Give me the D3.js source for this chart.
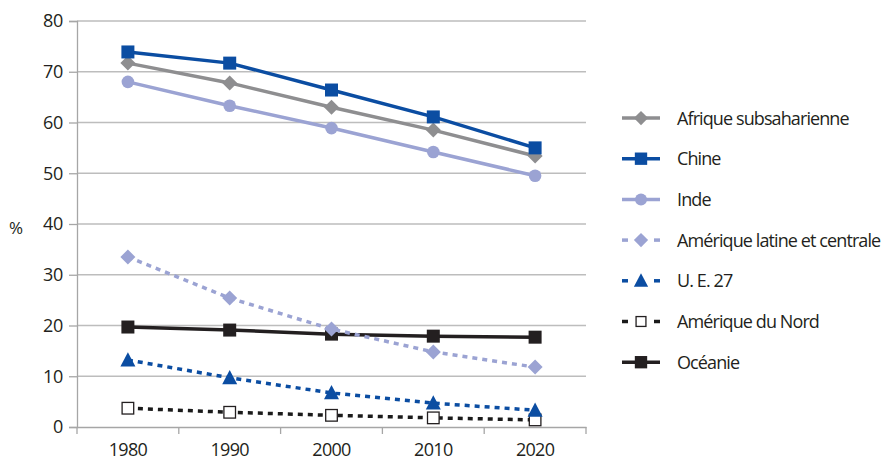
<!DOCTYPE html>
<html><head><meta charset="utf-8">
<script src="https://cdn.jsdelivr.net/npm/d3@7"></script>
<style>body{margin:0;background:#fff}svg{display:block}text{font-family:"Open Sans",sans-serif;fill:#231f20}</style>
</head><body><svg id="c" width="889" height="462"></svg>
<script>
const years = ["1980","1990","2000","2010","2020"];
const yTicks = [0,10,20,30,40,50,60,70,80];
const afrique = [71.7,67.8,63.0,58.5,53.4];
const chine = [73.9,71.7,66.4,61.1,55.0];
const inde = [68.0,63.3,58.9,54.2,49.5];
const amLatine = [33.5,25.4,19.3,14.8,11.8];
const ue27 = [13.2,9.7,6.7,4.7,3.3];
const amNord = [3.7,2.9,2.3,1.8,1.4];
const oceanie = [19.7,19.1,18.3,17.9,17.7];
const seriesNames = ["Afrique subsaharienne","Chine","Inde","Amérique latine et centrale","U. E. 27","Amérique du Nord","Océanie"];

const series = [
 {name:seriesNames[0], values:afrique, color:"#8e8e90", dash:null, marker:"diamond"},
 {name:seriesNames[1], values:chine, color:"#0b4da2", dash:null, marker:"square"},
 {name:seriesNames[2], values:inde, color:"#9ba3d3", dash:null, marker:"circle"},
 {name:seriesNames[3], values:amLatine, color:"#9ba3d3", dash:"5,5", marker:"diamond"},
 {name:seriesNames[4], values:ue27, color:"#0b4da2", dash:"5,5", marker:"triangle"},
 {name:seriesNames[5], values:amNord, color:"#1a1a1a", dash:"5,5", marker:"openSquare"},
 {name:seriesNames[6], values:oceanie, color:"#231f20", dash:null, marker:"square"}
];

const svg = d3.select("#c");
const x = d3.scaleBand().domain(years).range([77,586]);
const y = d3.scaleLinear().domain([0,80]).range([427,21]);
const cx = d => x(d)+x.bandwidth()/2;

svg.append("g").selectAll("line").data(yTicks.filter(t=>t>0)).join("line")
 .attr("x1",77).attr("x2",586).attr("y1",d=>y(d)).attr("y2",d=>y(d))
 .attr("stroke","#bdbdbd").attr("stroke-width",1.3);

const ya = svg.append("g").attr("transform","translate(77,0)")
 .call(d3.axisLeft(y).tickValues(yTicks).tickSize(8).tickPadding(6));
ya.attr("font-size",null).attr("font-family",null);
ya.select(".domain").attr("stroke","#a6a6a6").attr("stroke-width",1.3);
ya.selectAll(".tick line").attr("stroke","#a6a6a6").attr("stroke-width",1.3);
ya.selectAll(".tick text").style("font-size","18px").attr("fill","#231f20").attr("letter-spacing","-0.3");

const xa = svg.append("g").attr("transform","translate(0,427)")
 .call(d3.axisBottom(x).tickSize(0).tickPadding(16));
xa.attr("font-size",null).attr("font-family",null);
xa.select(".domain").attr("stroke","#a6a6a6").attr("stroke-width",1.3);
xa.selectAll(".tick text").style("font-size","18px").attr("fill","#231f20").attr("letter-spacing","-0.7");
const bounds = years.map(d=>x(d)).concat([x.range()[1]]);
svg.append("g").selectAll("line").data(bounds).join("line")
 .attr("x1",d=>d).attr("x2",d=>d).attr("y1",427).attr("y2",434)
 .attr("stroke","#a6a6a6").attr("stroke-width",1.3);

svg.append("text").attr("x",9).attr("y",234).style("font-size","17px").text("%");

function drawMarker(g, type, color, px, py, s){
  s = s||1;
  if(type==="diamond"){
    const r=7.5*s;
    g.append("path").attr("d",`M${px},${py-r}L${px+r},${py}L${px},${py+r}L${px-r},${py}Z`).attr("fill",color);
  } else if(type==="square"){
    const h=6.5*s;
    g.append("rect").attr("x",px-h).attr("y",py-h).attr("width",2*h).attr("height",2*h).attr("fill",color);
  } else if(type==="circle"){
    g.append("circle").attr("cx",px).attr("cy",py).attr("r",6.3*s).attr("fill",color);
  } else if(type==="triangle"){
    const h=7.5*s;
    g.append("path").attr("d",`M${px},${py-h*1.05}L${px+h},${py+h*0.85}L${px-h},${py+h*0.85}Z`).attr("fill",color);
  } else if(type==="openSquare"){
    const h=5.8*s;
    g.append("rect").attr("x",px-h).attr("y",py-h).attr("width",2*h).attr("height",2*h).attr("fill","#fff").attr("stroke","#231f20").attr("stroke-width",1.3);
  }
}

const line = d3.line().x((d,i)=>cx(years[i])).y(d=>y(d));
const order = [5,4,6,3,2,0,1];
order.forEach(k=>{
  const s = series[k];
  const g = svg.append("g");
  g.append("path").attr("d",line(s.values)).attr("fill","none").attr("stroke",s.color)
   .attr("stroke-width",3.5).attr("stroke-dasharray",s.dash);
  s.values.forEach((v,i)=>drawMarker(g,s.marker,s.color,cx(years[i]),y(v)));
});

const leg = svg.append("g");
series.forEach((s,i)=>{
  const ly = 118 + i*40.7;
  const g = leg.append("g");
  if(s.dash){
    [[622,628],[654,660]].forEach(([a,b])=>g.append("line").attr("x1",a).attr("x2",b).attr("y1",ly).attr("y2",ly).attr("stroke",s.color).attr("stroke-width",3.5));
  } else {
    g.append("line").attr("x1",622).attr("x2",660).attr("y1",ly).attr("y2",ly).attr("stroke",s.color).attr("stroke-width",3.5);
  }
  drawMarker(g,s.marker,s.color,641,ly, s.marker==="openSquare"?0.85:0.95);
  g.append("text").attr("x",677).attr("y",ly+6.5).style("font-size","18px").attr("letter-spacing","-0.9").text(s.name);
});
</script></body></html>
